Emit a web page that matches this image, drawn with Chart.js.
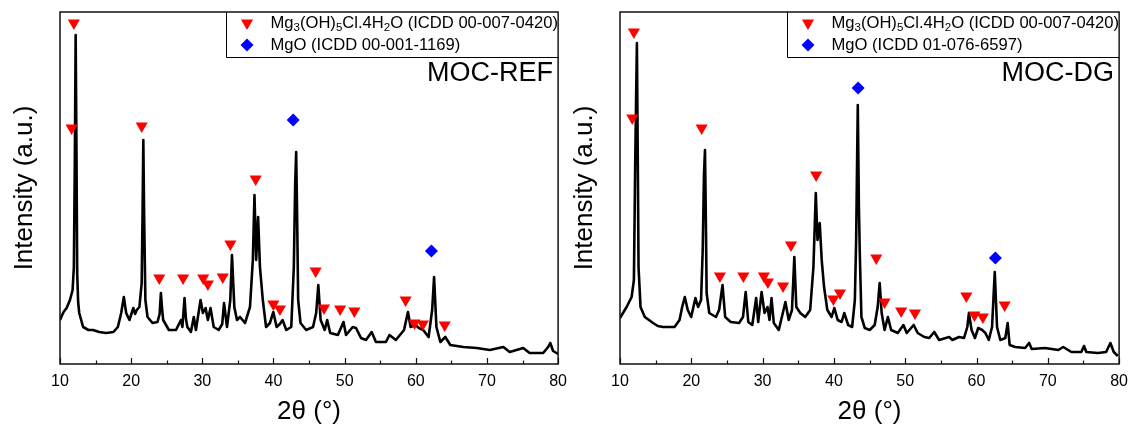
<!DOCTYPE html>
<html>
<head>
<meta charset="utf-8">
<title>XRD MOC-REF / MOC-DG</title>
<script src="https://cdn.jsdelivr.net/npm/chart.js@4.4.1/dist/chart.umd.min.js"></script>
<style>
  html, body { margin: 0; padding: 0; background: #fff; }
  .wrap { position: relative; width: 1136px; height: 432px; overflow: hidden; }
  .panel { position: absolute; top: 0; height: 432px; }
  #panel-ref { left: 0; width: 575px; }
  #panel-dg { left: 560px; width: 576px; }
</style>
</head>
<body>
<div class="wrap">
  <div class="panel" id="panel-ref"><canvas id="chart-ref"></canvas></div>
  <div class="panel" id="panel-dg"><canvas id="chart-dg"></canvas></div>
</div>
<script>
(function () {
    if (typeof Chart === 'undefined') {
        return;
    }

    const FONT = '"Liberation Sans", Arial, sans-serif';

    const xTickValues = [10, 20, 30, 40, 50, 60, 70, 80];
    const xMinorValues = [15, 25, 35, 45, 55, 65, 75];

    const hydrateLabel = 'Mg3(OH)5Cl.4H2O (ICDD 00-007-0420)';
    const mgoLabelRef = 'MgO (ICDD 00-001-1169)';
    const mgoLabelDg = 'MgO (ICDD 01-076-6597)';

    // MOC-REF pattern (arbitrary units)
    const refTheta = [10.0, 10.5, 10.93, 11.4, 11.77, 11.95, 12.08, 12.2, 12.3, 12.42, 12.55, 12.7,
        13.25, 14.0, 14.65, 15.5, 16.5, 17.5, 18.13, 18.6, 18.97, 19.3, 19.76, 20.3, 20.55, 20.78,
        21.16, 21.48, 21.6, 21.71, 21.82, 22.0, 22.3, 23.0, 23.7, 24.0, 24.18, 24.35, 24.5, 25.3,
        26.3, 27.0, 27.2, 27.5, 27.7, 27.9, 28.4, 28.8, 29.1, 29.75, 30.08, 30.46, 30.78, 31.15,
        31.6, 32.3, 32.8, 33.05, 33.47, 33.93, 34.17, 34.35, 34.5, 34.87, 35.3, 36.0, 36.7, 37.1,
        37.33, 37.57, 37.84, 38.1, 38.5, 38.96, 39.5, 39.98, 40.44, 40.9, 41.28, 41.8, 42.5, 42.86,
        43.05, 43.19, 43.32, 43.47, 43.8, 44.6, 45.56, 46.0, 46.3, 46.63, 47.2, 47.55, 47.97, 49.05,
        49.84, 50.2, 51.14, 51.6, 52.3, 53.0, 53.8, 54.4, 55.8, 56.3, 57.2, 58.35, 58.9, 59.27,
        59.97, 60.44, 61.04, 61.8, 62.3, 62.57, 62.9, 63.45, 64.15, 64.85, 66.7, 68.57, 70.4, 72.3,
        73.2, 75.1, 76.0, 77.9, 78.6, 78.9, 79.3, 80.0];
    const refIntensity = [44, 52, 56, 64, 74, 97, 200, 329, 230, 90, 62, 51,
        37, 34, 34, 32, 31, 32, 37, 51, 67, 51, 44, 56, 50, 54,
        57, 81, 150, 224, 150, 64, 47, 41, 42, 50, 71, 55, 44, 34,
        34, 44, 37, 66, 45, 37, 32, 47, 34, 64, 51, 56, 44, 56,
        37, 34, 40, 61, 37, 64, 109, 80, 57, 44, 47, 41, 57, 104,
        169, 104, 147, 97, 64, 37, 41, 52, 37, 40, 44, 34, 37, 97,
        180, 212, 150, 64, 41, 34, 37, 51, 79, 44, 34, 44, 31, 29,
        42, 29, 37, 36, 26, 24, 32, 22, 22, 29, 24, 34, 52, 37,
        39, 36, 34, 27, 54, 87, 37, 22, 27, 19, 17, 16, 14, 17,
        12, 16, 11, 11, 17, 21, 13, 10];

    const refHydrateTheta = [11.95, 11.63, 21.48, 23.95, 27.3, 30.12, 30.78, 32.87, 33.94, 37.5,
        39.98, 40.91, 45.93, 47.1, 49.37, 51.37, 58.57, 59.83, 61.0, 64.06];
    const refHydrateIntensity = [341, 236, 238, 86, 86, 86, 80, 87, 120, 185,
        60, 55, 93, 56, 55, 53, 64, 41, 40, 39];
    const refMgoTheta = [42.77, 62.2];
    const refMgoIntensity = [244, 113];

    // MOC-DG pattern
    const dgTheta = [10.0, 10.5, 10.93, 11.63, 11.95, 12.13, 12.37, 12.5, 12.6, 12.88, 13.48, 14.64,
        15.3, 16.03, 17.65, 18.35, 18.72, 19.09, 19.5, 19.98, 20.58, 20.95, 21.37, 21.6, 21.78, 21.92,
        22.05, 22.15, 22.52, 23.45, 23.9, 24.38, 24.75, 25.54, 26.7, 27.25, 27.63, 27.99, 28.55, 29.1,
        29.38, 29.86, 30.27, 30.69, 30.97, 31.25, 31.57, 32.27, 33.2, 33.66, 34.12, 34.45, 34.73,
        35.28, 35.98, 36.67, 37.13, 37.46, 37.7, 38.01, 38.29, 38.62, 39.08, 39.68, 40.06, 40.53,
        41.08, 41.45, 42.0, 42.56, 42.94, 43.12, 43.35, 43.5, 43.63, 43.86, 44.33, 45.02, 45.72,
        46.14, 46.42, 46.7, 47.11, 47.57, 48.03, 48.96, 49.75, 50.22, 51.19, 51.75, 52.68, 53.37,
        54.07, 54.76, 56.16, 56.62, 57.55, 58.25, 58.71, 58.94, 59.31, 59.78, 60.24, 60.8, 61.25,
        61.72, 62.18, 62.56, 62.88, 63.34, 64.04, 64.37, 64.65, 65.43, 66.82, 67.38, 67.75, 69.6,
        71.47, 72.16, 73.3, 74.7, 75.08, 75.4, 77.03, 78.18, 78.78, 79.25, 79.82];
    const dgIntensity = [46, 52, 57, 67, 84, 200, 321, 200, 97, 57, 47, 41,
        38, 37, 37, 44, 57, 67, 54, 47, 66, 57, 64, 114, 190, 214,
        140, 71, 51, 47, 54, 79, 47, 42, 41, 47, 72, 42, 39, 66,
        42, 72, 51, 57, 44, 66, 41, 34, 62, 44, 54, 107, 57,
        51, 47, 54, 97, 171, 124, 141, 104, 77, 54, 47, 56, 44,
        42, 51, 39, 37, 64, 124, 259, 160, 111, 47, 36, 34, 39,
        57, 81, 51, 34, 47, 34, 31, 39, 31, 39, 31, 27, 26,
        32, 24, 27, 24, 27, 26, 37, 51, 34, 26, 36, 34, 31,
        24, 37, 92, 37, 24, 26, 41, 19, 17, 16, 21, 15, 16,
        14, 17, 12, 12, 18, 12, 11, 12, 21, 12, 8];

    const dgHydrateTheta = [11.95, 11.72, 21.45, 24.01, 27.3, 30.18, 30.74, 32.87, 33.98, 37.51,
        39.92, 40.85, 45.94, 47.11, 49.43, 51.37, 58.57, 59.72, 60.89, 63.95];
    const dgHydrateIntensity = [332, 246, 236, 88, 88, 88, 82, 78, 119, 189,
        65, 71, 106, 62, 53, 51, 68, 49, 47, 59];
    const dgMgoTheta = [43.4, 62.65];
    const dgMgoIntensity = [276, 106];

    function toPoints(xs, ys) {
        return xs.map(function (x, i) {
            return { x: x, y: ys[i] };
        });
    }

    // digits directly after a letter or ')' are chemical subscripts
    function splitFormula(text) {
        const runs = [];
        for (let i = 0; i < text.length; i++) {
            const ch = text[i];
            const sub = /\d/.test(ch) && i > 0 && /[A-Za-z)]/.test(text[i - 1]);
            const last = runs[runs.length - 1];
            if (last && last.sub === sub) {
                last.text += ch;
            } else {
                runs.push({ text: ch, sub: sub });
            }
        }
        return runs;
    }

    function drawMarker(ctx, style, x, y, r, color) {
        ctx.fillStyle = color;
        ctx.beginPath();
        if (style === 'triangle') {
            // pointing down
            const h = r * Math.sqrt(3) / 2;
            ctx.moveTo(x - h, y - r / 2);
            ctx.lineTo(x + h, y - r / 2);
            ctx.lineTo(x, y + r);
        } else {
            ctx.moveTo(x - r, y);
            ctx.lineTo(x, y - r);
            ctx.lineTo(x + r, y);
            ctx.lineTo(x, y + r);
        }
        ctx.closePath();
        ctx.fill();
    }

    const panelDecor = {
        id: 'panelDecor',
        afterDatasetsDraw: function (chart, args, opts) {
            const ctx = chart.ctx;
            const area = chart.chartArea;
            const xScale = chart.scales.x;
            ctx.save();

            // frame
            ctx.strokeStyle = '#111';
            ctx.lineWidth = 1.5;
            ctx.strokeRect(area.left, area.top, area.right - area.left, area.bottom - area.top);

            // inward ticks on the bottom axis
            ctx.lineWidth = 1.2;
            ctx.beginPath();
            xTickValues.forEach(function (v) {
                const px = Math.round(xScale.getPixelForValue(v)) + 0.5;
                ctx.moveTo(px, area.bottom);
                ctx.lineTo(px, area.bottom - 6);
            });
            xMinorValues.forEach(function (v) {
                const px = Math.round(xScale.getPixelForValue(v)) + 0.5;
                ctx.moveTo(px, area.bottom);
                ctx.lineTo(px, area.bottom - 3.5);
            });
            ctx.stroke();

            // legend box in the top right corner
            const boxLeft = Math.round(area.right - opts.legendWidth) + 0.5;
            const boxBottom = Math.round(area.top + opts.legendHeight) + 0.5;
            ctx.fillStyle = '#fff';
            ctx.fillRect(boxLeft, area.top + 1, area.right - boxLeft - 1, boxBottom - area.top - 1);
            ctx.strokeStyle = '#000';
            ctx.lineWidth = 1;
            ctx.beginPath();
            ctx.moveTo(boxLeft, area.top);
            ctx.lineTo(boxLeft, boxBottom);
            ctx.lineTo(area.right, boxBottom);
            ctx.stroke();

            let row = 0;
            chart.data.datasets.forEach(function (ds) {
                if (!ds.legendMarker) {
                    return;
                }
                const y = area.top + 11 + row * 22;
                drawMarker(ctx, ds.legendMarker, boxLeft + 20.5, y, ds.legendMarker === 'triangle' ? 7 : 6.5, ds.backgroundColor);
                let x = boxLeft + 44;
                ctx.fillStyle = '#000';
                ctx.textAlign = 'left';
                ctx.textBaseline = 'middle';
                splitFormula(ds.label).forEach(function (run) {
                    ctx.font = (run.sub ? '11.5px ' : '16.6px ') + FONT;
                    ctx.fillText(run.text, x, run.sub ? y + 5 : y);
                    x += ctx.measureText(run.text).width;
                });
                row++;
            });

            // sample name
            ctx.font = '27px ' + FONT;
            ctx.fillStyle = '#000';
            ctx.textAlign = 'right';
            ctx.textBaseline = 'middle';
            ctx.fillText(opts.sampleName, area.right - 5, area.top + 62);

            ctx.restore();
        }
    };

    function createChartConfig(sample) {
        return {
            type: 'line',
            data: {
                datasets: [
                    {
                        label: sample.name,
                        data: toPoints(sample.theta, sample.intensity),
                        borderColor: '#000',
                        borderWidth: 2.6,
                        borderJoinStyle: 'round',
                        pointRadius: 0,
                        tension: 0,
                        order: 3
                    },
                    {
                        type: 'scatter',
                        label: hydrateLabel,
                        data: toPoints(sample.hydrateTheta, sample.hydrateIntensity),
                        pointStyle: 'triangle',
                        rotation: 180,
                        radius: 7,
                        borderWidth: 0,
                        backgroundColor: '#ff0000',
                        legendMarker: 'triangle',
                        order: 1
                    },
                    {
                        type: 'scatter',
                        label: sample.mgoLabel,
                        data: toPoints(sample.mgoTheta, sample.mgoIntensity),
                        pointStyle: 'rectRot',
                        radius: 6.5,
                        borderWidth: 0,
                        backgroundColor: '#0000ff',
                        legendMarker: 'diamond',
                        order: 2
                    }
                ]
            },
            options: {
                responsive: true,
                maintainAspectRatio: false,
                animation: false,
                layout: {
                    padding: { left: 0, right: sample.rightPad, top: 12, bottom: 0 }
                },
                scales: {
                    x: {
                        type: 'linear',
                        min: 10,
                        max: 80,
                        afterFit: function (scale) { scale.height = 68; },
                        afterBuildTicks: function (scale) {
                            scale.ticks = xTickValues.map(function (v) { return { value: v }; });
                        },
                        grid: { display: false, drawTicks: false },
                        border: { display: false },
                        ticks: {
                            color: '#000',
                            font: { family: FONT, size: 16 },
                            padding: 8,
                            maxRotation: 0
                        },
                        title: {
                            display: true,
                            text: '2θ (°)',
                            color: '#000',
                            font: { family: FONT, size: 26 },
                            padding: { top: 0, bottom: 5 }
                        }
                    },
                    y: {
                        min: 0,
                        max: 352,
                        afterFit: function (scale) { scale.width = 60; },
                        grid: { display: false, drawTicks: false },
                        border: { display: false },
                        ticks: { display: false },
                        title: {
                            display: true,
                            text: 'Intensity (a.u.)',
                            color: '#000',
                            font: { family: FONT, size: 26 },
                            padding: { top: 9, bottom: 0 }
                        }
                    }
                },
                plugins: {
                    legend: { display: false },
                    tooltip: { enabled: false },
                    panelDecor: {
                        legendWidth: 332,
                        legendHeight: 45,
                        sampleName: sample.name
                    }
                }
            },
            plugins: [panelDecor]
        };
    }

    new Chart(document.getElementById('chart-ref').getContext('2d'), createChartConfig({
        name: 'MOC-REF',
        theta: refTheta,
        intensity: refIntensity,
        hydrateTheta: refHydrateTheta,
        hydrateIntensity: refHydrateIntensity,
        mgoTheta: refMgoTheta,
        mgoIntensity: refMgoIntensity,
        mgoLabel: mgoLabelRef,
        rightPad: 13
    }));

    new Chart(document.getElementById('chart-dg').getContext('2d'), createChartConfig({
        name: 'MOC-DG',
        theta: dgTheta,
        intensity: dgIntensity,
        hydrateTheta: dgHydrateTheta,
        hydrateIntensity: dgHydrateIntensity,
        mgoTheta: dgMgoTheta,
        mgoIntensity: dgMgoIntensity,
        mgoLabel: mgoLabelDg,
        rightPad: 13
    }));
})();
</script>
</body>
</html>
